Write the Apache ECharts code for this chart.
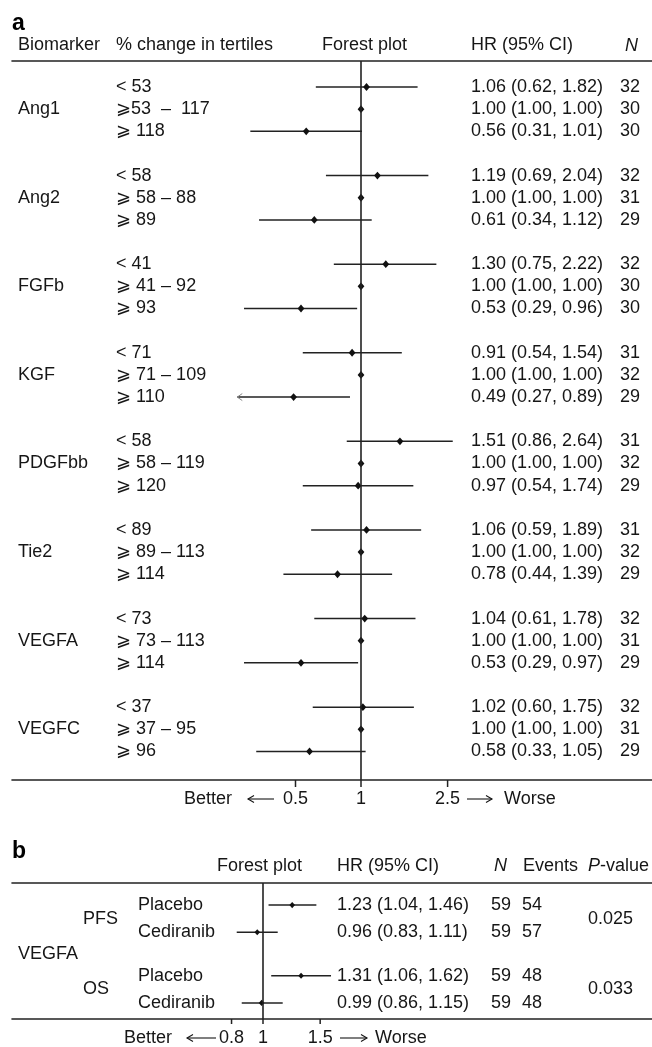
<!DOCTYPE html>
<html><head><meta charset="utf-8">
<script src="https://cdn.jsdelivr.net/npm/echarts@6/dist/echarts.min.js"></script>
<style>html,body{margin:0;padding:0;background:#fff}#c{width:652px;height:1047px}</style>
</head><body><div id="c"></div>
<script>
// ---------- Panel a data ----------
const biomarkers = ['Ang1','Ang2','FGFb','KGF','PDGFbb','Tie2','VEGFA','VEGFC'];
const tertiles = [
  '< 53','\u2A7E53  \u2013  117','\u2A7E 118',
  '< 58','\u2A7E 58 \u2013 88','\u2A7E 89',
  '< 41','\u2A7E 41 \u2013 92','\u2A7E 93',
  '< 71','\u2A7E 71 \u2013 109','\u2A7E 110',
  '< 58','\u2A7E 58 \u2013 119','\u2A7E 120',
  '< 89','\u2A7E 89 \u2013 113','\u2A7E 114',
  '< 73','\u2A7E 73 \u2013 113','\u2A7E 114',
  '< 37','\u2A7E 37 \u2013 95','\u2A7E 96'
];
const hrA = [1.06,1.00,0.56, 1.19,1.00,0.61, 1.30,1.00,0.53, 0.91,1.00,0.49, 1.51,1.00,0.97, 1.06,1.00,0.78, 1.04,1.00,0.53, 1.02,1.00,0.58];
const loA = [0.62,1.00,0.31, 0.69,1.00,0.34, 0.75,1.00,0.29, 0.54,1.00,0.27, 0.86,1.00,0.54, 0.59,1.00,0.44, 0.61,1.00,0.29, 0.60,1.00,0.33];
const hiA = [1.82,1.00,1.01, 2.04,1.00,1.12, 2.22,1.00,0.96, 1.54,1.00,0.89, 2.64,1.00,1.74, 1.89,1.00,1.39, 1.78,1.00,0.97, 1.75,1.00,1.05];
const nA  = [32,30,30, 32,31,29, 32,30,30, 31,32,29, 31,32,29, 31,32,29, 32,31,29, 32,31,29];
const ticksA = [0.5, 1, 2.5];
const tickLabelsA = ['0.5','1','2.5'];

// ---------- Panel b data ----------
const markerB = 'VEGFA';
const endpointsB = ['PFS','OS'];
const armsB = ['Placebo','Cediranib','Placebo','Cediranib'];
const hrB = [1.23,0.96,1.31,0.99];
const loB = [1.04,0.83,1.06,0.86];
const hiB = [1.46,1.11,1.62,1.15];
const nB = [59,59,59,59];
const eventsB = [54,57,48,48];
const pValuesB = ['0.025','0.033'];
const ticksB = [0.8, 1, 1.5];
const tickLabelsB = ['0.8','1','1.5'];
const refHR = 1;

// ---------- layout ----------
const FONT = "'Liberation Sans', Arial, 'DejaVu Sans', sans-serif";
const F18 = '18px ' + FONT;
const TXT = '#161616';
const LINE = '#222';
const clipFloor = 0.28;

const yMinA = -1.174, yMaxA = 31.29;
const yMinB = -0.81, yMaxB = 4.19;
const groupStepB = 2.6;

function text(x, y, t, opt) {
  return Object.assign({
    type: 'text',
    style: { x: x, y: y, text: t, font: F18, fill: TXT, align: 'left', verticalAlign: 'middle' }
  }, opt || {});
}
function diamond(x, y, w, h) {
  return { type: 'polygon', shape: { points: [[x, y - h], [x + w, y], [x, y + h], [x - w, y]] }, style: { fill: '#111' } };
}

function renderRowA(params, api) {
  const i = params.dataIndex;
  const g = Math.floor(i / 3), r = i % 3;
  const slot = api.value(3);
  const pH = api.coord([api.value(0), slot]);
  const pL = api.coord([api.value(1), slot]);
  const pU = api.coord([api.value(2), slot]);
  const y = pH[1];
  const ch = [];
  if (api.value(1) !== api.value(2)) {
    ch.push({ type: 'line', shape: { x1: pL[0], y1: y, x2: pU[0], y2: y }, style: { stroke: LINE, lineWidth: 1.5 } });
  }
  if (api.value(1) < clipFloor) {
    ch.push({ type: 'polyline', shape: { points: [[pL[0] + 5, y - 3.5], [pL[0], y], [pL[0] + 5, y + 3.5]] }, style: { stroke: '#888', lineWidth: 1, fill: null } });
  }
  ch.push(diamond(pH[0], y, 3.4, 3.9));
  ch.push(text(116, y, tertiles[i]));
  ch.push(text(471, y, hrA[i].toFixed(2) + ' (' + loA[i].toFixed(2) + ', ' + hiA[i].toFixed(2) + ')'));
  ch.push(text(620, y, String(nA[i])));
  if (r === 1) ch.push(text(18, y, biomarkers[g]));
  return { type: 'group', children: ch };
}

function renderRowB(params, api) {
  const i = params.dataIndex;
  const g = Math.floor(i / 2), r = i % 2;
  const slot = api.value(3);
  const pH = api.coord([api.value(0), slot]);
  const pL = api.coord([api.value(1), slot]);
  const pU = api.coord([api.value(2), slot]);
  const y = pH[1];
  const ch = [];
  ch.push({ type: 'line', shape: { x1: pL[0], y1: y, x2: pU[0], y2: y }, style: { stroke: LINE, lineWidth: 1.5 } });
  ch.push(diamond(pH[0], y, 2.8, 3.1));
  ch.push(text(138, y, armsB[i]));
  ch.push(text(337, y, hrB[i].toFixed(2) + ' (' + loB[i].toFixed(2) + ', ' + hiB[i].toFixed(2) + ')'));
  ch.push(text(491, y, String(nB[i])));
  ch.push(text(522, y, String(eventsB[i])));
  if (r === 0) {
    const yc = api.coord([refHR, g * groupStepB + 0.5])[1];
    ch.push(text(83, yc, endpointsB[g]));
    ch.push(text(588, yc, pValuesB[g]));
  }
  if (i === 0) {
    const yv = api.coord([refHR, (groupStepB + 1) / 2])[1];
    ch.push(text(18, yv, markerB));
  }
  return { type: 'group', children: ch };
}

function tickRenderer(labels, len, dy) {
  return function (params, api) {
    const p = api.coord([api.value(0), api.value(1)]);
    return { type: 'group', children: [
      { type: 'line', shape: { x1: p[0], y1: p[1], x2: p[0], y2: p[1] + len }, style: { stroke: LINE, lineWidth: 1.5 } },
      text(p[0], p[1] + dy, labels[params.dataIndex], { style: { x: p[0], y: p[1] + dy, text: labels[params.dataIndex], font: F18, fill: TXT, align: 'center', verticalAlign: 'middle' } })
    ] };
  };
}

function logAxis(gridIndex, min, max, pos) {
  return {
    type: 'log', logBase: 10, gridIndex: gridIndex, min: min, max: max, position: pos,
    axisLine: { show: true, onZero: false, lineStyle: { color: LINE, width: 1.6 } },
    axisTick: { show: false }, axisLabel: { show: false }, splitLine: { show: false }
  };
}

function arrow(x1, x2, y, dir) {
  const tip = dir < 0 ? Math.min(x1, x2) : Math.max(x1, x2);
  const back = tip - dir * 6;
  return [
    { type: 'line', shape: { x1: x1, y1: y, x2: x2, y2: y }, style: { stroke: TXT, lineWidth: 1.1 } },
    { type: 'polyline', shape: { points: [[back, y - 3.5], [tip, y], [back, y + 3.5]] }, style: { stroke: TXT, lineWidth: 1.1, fill: null } }
  ];
}

const minA = Math.exp((12 - 361) / 94.5), maxA = Math.exp((652 - 361) / 94.5);
const minB = Math.exp((12 - 263) / 141), maxB = Math.exp((652 - 263) / 141);

const chart = echarts.init(document.getElementById('c'), null, { renderer: 'canvas' });
const graphics = [
  text(12, 24, 'a', { style: { x: 12, y: 24, text: 'a', font: 'bold 23px ' + FONT, fill: '#000', verticalAlign: 'middle' } }),
  text(18, 45.5, 'Biomarker'),
  text(116, 45.5, '% change in tertiles'),
  text(322, 45.5, 'Forest plot'),
  text(471, 45.5, 'HR (95% CI)'),
  text(625, 45.5, 'N', { style: { x: 625, y: 45.5, text: 'N', font: 'italic 18px ' + FONT, fill: TXT, verticalAlign: 'middle' } }),
  text(232, 799, 'Better', { style: { x: 232, y: 799, text: 'Better', font: F18, fill: TXT, align: 'right', verticalAlign: 'middle' } }),
  text(504, 799, 'Worse'),
  ...arrow(248, 274, 799, -1),
  ...arrow(467, 492, 799, 1),

  text(12, 852, 'b', { style: { x: 12, y: 852, text: 'b', font: 'bold 23px ' + FONT, fill: '#000', verticalAlign: 'middle' } }),
  text(217, 866, 'Forest plot'),
  text(337, 866, 'HR (95% CI)'),
  text(494, 866, 'N', { style: { x: 494, y: 866, text: 'N', font: 'italic 18px ' + FONT, fill: TXT, verticalAlign: 'middle' } }),
  text(523, 866, 'Events'),
  text(588, 866, '{i|P}-value', { style: { x: 588, y: 866, text: '{i|P}-value', font: F18, fill: TXT, verticalAlign: 'middle', rich: { i: { fontStyle: 'italic', fontSize: 18, fontFamily: FONT, fill: TXT } } } }),
  text(172, 1038, 'Better', { style: { x: 172, y: 1038, text: 'Better', font: F18, fill: TXT, align: 'right', verticalAlign: 'middle' } }),
  text(375, 1038, 'Worse'),
  ...arrow(187, 216, 1038, -1),
  ...arrow(340, 367, 1038, 1)
];

chart.setOption({
  animation: false,
  backgroundColor: '#fff',
  grid: [
    { left: 12, right: 0, top: 61, bottom: 1047 - 780 },
    { left: 12, right: 0, top: 883, bottom: 1047 - 1019 }
  ],
  xAxis: [
    logAxis(0, minA, maxA, 'bottom'),
    logAxis(0, minA, maxA, 'top'),
    logAxis(1, minB, maxB, 'bottom'),
    logAxis(1, minB, maxB, 'top')
  ],
  yAxis: [
    { type: 'value', gridIndex: 0, inverse: true, min: yMinA, max: yMaxA, show: false },
    { type: 'value', gridIndex: 1, inverse: true, min: yMinB, max: yMaxB, show: false }
  ],
  graphic: graphics,
  series: [
    {
      type: 'custom', xAxisIndex: 0, yAxisIndex: 0, renderItem: renderRowA,
      encode: { x: [0, 1, 2], y: 3 },
      data: hrA.map((h, i) => [h, loA[i], hiA[i], Math.floor(i / 3) * 4 + (i % 3)]),
      markLine: { silent: true, symbol: ['none', 'none'], label: { show: false }, lineStyle: { color: LINE, width: 1.6, type: 'solid' }, data: [{ xAxis: refHR }] }
    },
    {
      type: 'custom', xAxisIndex: 0, yAxisIndex: 0, renderItem: tickRenderer(tickLabelsA, 7, 19),
      encode: { x: 0, y: 1 }, data: ticksA.map(v => [v, yMaxA])
    },
    {
      type: 'custom', xAxisIndex: 2, yAxisIndex: 1, renderItem: renderRowB,
      encode: { x: [0, 1, 2], y: 3 },
      data: hrB.map((h, i) => [h, loB[i], hiB[i], Math.floor(i / 2) * groupStepB + (i % 2)]),
      markLine: { silent: true, symbol: ['none', 'none'], label: { show: false }, lineStyle: { color: LINE, width: 1.6, type: 'solid' }, data: [{ xAxis: refHR }] }
    },
    {
      type: 'custom', xAxisIndex: 2, yAxisIndex: 1, renderItem: tickRenderer(tickLabelsB, 5, 19),
      encode: { x: 0, y: 1 }, data: ticksB.map(v => [v, yMaxB])
    }
  ]
});
</script></body></html>
